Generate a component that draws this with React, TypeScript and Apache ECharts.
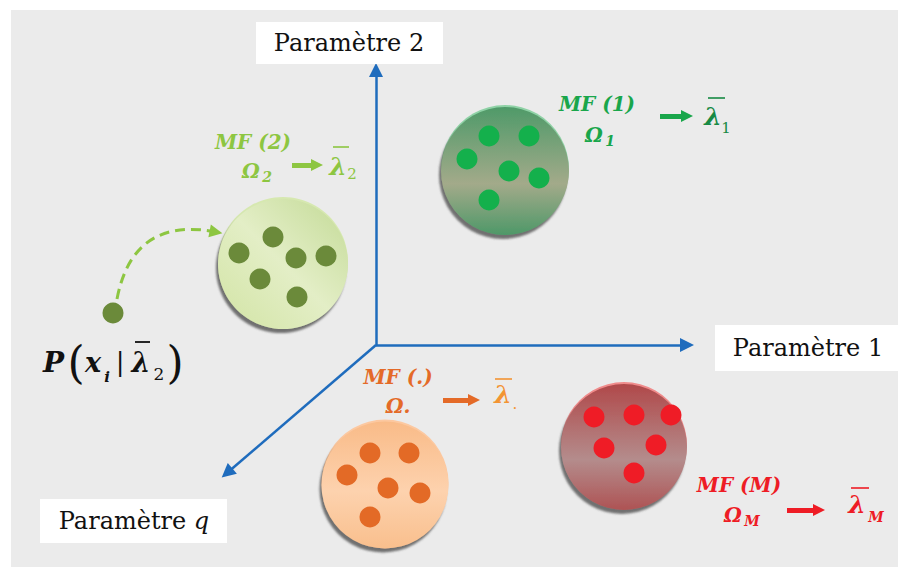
import React, { useEffect, useRef } from "react";
import * as echarts from "echarts";

const W = 898;
const H = 567;

// Axis origin and arrow end points (diagram coordinates, y downward)
const axisOrigin = [376, 345];
const axisEnds = [
  [376, 70],
  [687, 345],
  [227, 473],
];
const axisNames = ["Paramètre 2", "Paramètre 1", "Paramètre q"];

// Clusters
const clusterLabels = ["MF (1)", "MF (2)", "MF (.)", "MF (M)"];
const clusterCx = [505, 283, 385, 624];
const clusterCy = [171, 264, 485, 447];
const clusterSize = [128, 130, 127, 126];

const dots1 = [[489, 136], [529, 136], [467, 159], [509, 171], [539, 178], [489, 200]];
const dots2 = [[273, 237], [239, 253], [296, 258], [326, 256], [260, 279], [297, 297]];
const dotsDot = [[370, 453], [409, 453], [347, 475], [388, 488], [420, 493], [370, 517]];
const dotsM = [[594, 417], [634, 415], [671, 415], [604, 448], [656, 445], [634, 473]];

// Observation point P and its dashed path to cluster 2
const pointP = [113, 313];
const pathP = [[117, 299], [216, 232]];

// Small arrows from labels to lambda
const smallArrows = [
  [[660, 116], [687, 116]],
  [[292, 165], [317, 165]],
  [[443, 400], [474, 400]],
  [[787, 510], [819, 510]],
];

const C = {
  blue: "#1f6cbd",
  g1: "#19a64b",
  g1l: "#178a44",
  g2: "#8dc641",
  olive: "#6b8a3a",
  or: "#e46a28",
  orl: "#f39433",
  red: "#ee1c25",
};
const arrowColors = [C.g1, C.g2, C.or, C.red];

const SERIF = '"DejaVu Serif", "Liberation Serif", serif';

function t(x: number, y: number, text: string, fill: string, size: number, opts: any = {}) {
  return {
    type: "text",
    x,
    y,
    z: 10,
    style: {
      text,
      fill,
      fontSize: size,
      fontFamily: SERIF,
      fontWeight: opts.weight || "normal",
      fontStyle: opts.style || "normal",
      align: opts.align || "center",
      verticalAlign: "middle",
    },
  };
}
function bar(x1: number, x2: number, y: number, stroke: string, w = 1.6) {
  return { type: "line", z: 10, shape: { x1, y1: y, x2, y2: y }, style: { stroke, lineWidth: w } };
}

export default function App() {
  const ref = useRef<HTMLDivElement>(null);
  useEffect(() => {
    if (!ref.current) return;
    const chart = echarts.init(ref.current, null, { renderer: "svg" });
    const LG = echarts.graphic.LinearGradient;
    const fills = [
      new LG(0, 0, 0, 1, [
        { offset: 0, color: "#4f9a69" },
        { offset: 0.6, color: "#a3aa8a" },
        { offset: 1, color: "#4e9868" },
      ]),
      new LG(1, 0, 0, 1, [
        { offset: 0, color: "#c3da96" },
        { offset: 0.5, color: "#e3eec6" },
        { offset: 1, color: "#d2e4a4" },
      ]),
      new LG(0, 0, 0, 1, [
        { offset: 0, color: "#f9bb88" },
        { offset: 0.55, color: "#fdd2ae" },
        { offset: 1, color: "#f9bf8d" },
      ]),
      new LG(0, 0, 0, 1, [
        { offset: 0, color: "#b0494a" },
        { offset: 0.6, color: "#b48c8c" },
        { offset: 1, color: "#ae5354" },
      ]),
    ];
    const rims = ["#8fd2a6", "#d6e8b0", "#fcc8a0", "#ef8b8b"];

    const dotSeries = (data: number[][], color: string) => ({
      type: "scatter",
      data,
      symbolSize: 21,
      z: 5,
      itemStyle: { color, opacity: 1 },
      silent: true,
    });

    const option: any = {
      animation: false,
      backgroundColor: "#ffffff",
      grid: { left: 0, right: 0, top: 0, bottom: 0 },
      xAxis: { type: "value", min: 0, max: W, show: false },
      yAxis: { type: "value", min: 0, max: H, inverse: true, show: false },
      graphic: [
        { type: "rect", z: -10, shape: { x: 11, y: 10, width: W - 11, height: H - 10 }, style: { fill: "#ebebeb" } },
        // axis name boxes
        { type: "rect", z: 5, shape: { x: 256, y: 22, width: 187, height: 42 }, style: { fill: "#ffffff" } },
        t(349, 43, axisNames[0], "#111", 24),
        { type: "rect", z: 5, shape: { x: 715, y: 325, width: 183, height: 46 }, style: { fill: "#ffffff" } },
        t(808, 348, axisNames[1], "#111", 24),
        { type: "rect", z: 5, shape: { x: 40, y: 499, width: 187, height: 44 }, style: { fill: "#ffffff" } },
        {
          type: "text",
          x: 134,
          y: 521,
          z: 10,
          style: {
            text: "{a|Paramètre }{b|q}",
            align: "center",
            verticalAlign: "middle",
            rich: {
              a: { fontFamily: SERIF, fontSize: 24, fill: "#111", color: "#111" },
              b: { fontFamily: SERIF, fontSize: 24, fontStyle: "italic", fill: "#111", color: "#111" },
            },
          },
        },
        // MF (1)
        t(597, 104, clusterLabels[0], C.g1, 20, { weight: "bold", style: "italic" }),
        t(594, 135, "Ω", C.g1, 20, { weight: "bold", style: "italic" }),
        t(610, 141, "1", C.g1, 14, { weight: "bold", style: "italic" }),
        t(713, 116, "λ", C.g1l, 25, { weight: "bold", style: "italic" }),
        bar(708, 725, 98, C.g1l),
        t(726, 128, "1", C.g1l, 15),
        // MF (2)
        t(253, 142, clusterLabels[1], C.g2, 20, { weight: "bold", style: "italic" }),
        t(251, 171, "Ω", C.g2, 20, { weight: "bold", style: "italic" }),
        t(267, 177, "2", C.g2, 14, { weight: "bold", style: "italic" }),
        t(338, 166, "λ", C.g2, 25, { weight: "bold", style: "italic" }),
        bar(333, 349, 147, C.g2),
        t(352, 174, "2", C.g2, 15),
        // MF (.)
        t(398, 377, clusterLabels[2], C.or, 20, { weight: "bold", style: "italic" }),
        t(398, 406, "Ω.", C.or, 20, { weight: "bold", style: "italic" }),
        t(503, 394, "λ", C.orl, 25, { weight: "bold", style: "italic" }),
        bar(495, 512, 379, C.orl),
        t(515, 404, ".", C.orl, 15),
        // MF (M)
        t(739, 485, clusterLabels[3], C.red, 20, { weight: "bold", style: "italic" }),
        t(733, 515, "Ω", C.red, 20, { weight: "bold", style: "italic" }),
        t(752, 521, "M", C.red, 14, { weight: "bold", style: "italic" }),
        t(857, 504, "λ", C.red, 25, { weight: "bold", style: "italic" }),
        bar(851, 869, 488, C.red),
        t(876, 517, "M", C.red, 14, { weight: "bold", style: "italic" }),
        // P( x_i | lambda_2 )
        t(43, 362, "P", "#111", 28, { weight: "bold", style: "italic", align: "left" }),
        t(76, 362, "(", "#111", 44),
        t(93, 362, "x", "#111", 27, { weight: "bold", style: "italic" }),
        t(107, 377, "i", "#111", 15, { weight: "bold", style: "italic" }),
        t(120, 362, "|", "#111", 26),
        t(141, 362, "λ", "#111", 27, { weight: "bold", style: "italic" }),
        bar(135, 150, 342, "#111", 1.8),
        t(159, 374, "2", "#111", 17),
        t(175, 362, ")", "#111", 44),
      ],
      series: [
        // axes
        {
          type: "lines",
          coordinateSystem: "cartesian2d",
          z: 3,
          silent: true,
          symbol: ["none", "triangle"],
          symbolSize: [13, 14],
          lineStyle: { color: C.blue, width: 2.5, opacity: 1 },
          data: axisEnds.map((e) => ({ coords: [axisOrigin, e] })),
        },
        // small label arrows
        {
          type: "lines",
          coordinateSystem: "cartesian2d",
          z: 3,
          silent: true,
          symbol: ["none", "triangle"],
          symbolSize: [15, 12],
          data: smallArrows.map((c, i) => ({
            coords: c,
            lineStyle: { color: arrowColors[i], width: 5, opacity: 1 },
            itemStyle: { color: arrowColors[i] },
          })),
        },
        // dashed path P -> cluster 2
        {
          type: "lines",
          coordinateSystem: "cartesian2d",
          z: 3,
          silent: true,
          symbol: ["none", "triangle"],
          symbolSize: [14, 13],
          lineStyle: { color: C.g2, width: 3, type: [10, 6], curveness: 0.5, opacity: 1 },
          data: [{ coords: pathP }],
        },
        // cluster rims
        {
          type: "scatter",
          z: 3,
          silent: true,
          data: clusterCx.map((x, i) => ({
            value: [x, clusterCy[i] - 2],
            symbolSize: clusterSize[i],
            itemStyle: { color: rims[i], opacity: 1 },
          })),
        },
        // clusters
        {
          type: "scatter",
          z: 4,
          silent: true,
          data: clusterCx.map((x, i) => ({
            value: [x, clusterCy[i]],
            symbolSize: clusterSize[i],
            itemStyle: {
              color: fills[i],
              opacity: 1,
              shadowColor: "rgba(70,70,70,0.75)",
              shadowBlur: 2,
              shadowOffsetX: -2,
              shadowOffsetY: 4,
            },
          })),
        },
        dotSeries(dots1, "#14b04c"),
        dotSeries(dots2, C.olive),
        dotSeries(dotsDot, "#e36a26"),
        dotSeries(dotsM, "#ef1c26"),
        dotSeries([pointP], C.olive),
      ],
    };
    chart.setOption(option);
    return () => chart.dispose();
  }, []);
  return <div ref={ref} style={{ position: "absolute", left: 0, top: 0, width: W, height: H }} />;
}
